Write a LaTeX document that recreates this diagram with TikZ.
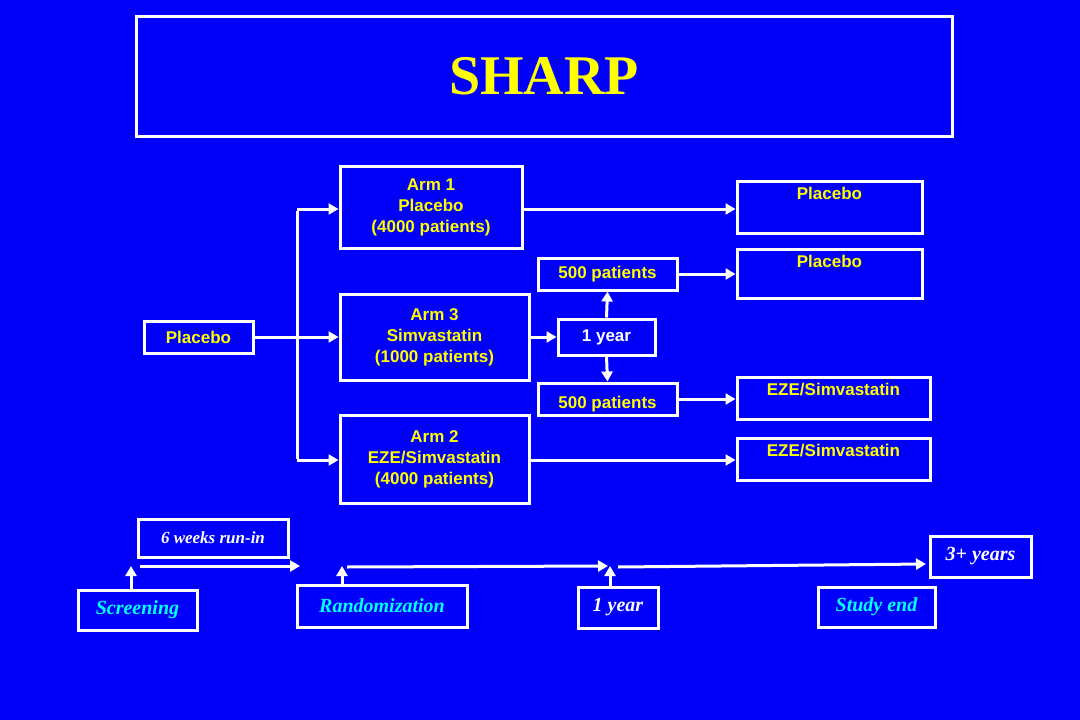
\documentclass[tikz,border=0pt]{standalone}
\usepackage{fontspec}
\setmainfont{Liberation Serif}
\setsansfont{Liberation Sans}
\usetikzlibrary{fit,arrows.meta}
\definecolor{bg}{RGB}{0,0,250}
\definecolor{ylw}{RGB}{255,255,0}
\definecolor{cyn}{RGB}{0,255,255}
\begin{document}
\begin{tikzpicture}[x=1pt,y=-1pt,
  box/.style={draw=white,line width=3pt,inner sep=0pt},
  st/.style={font=\sffamily\bfseries\fontsize{17}{21}\selectfont,text=ylw,align=center},
  it/.style={font=\rmfamily\bfseries\itshape\fontsize{20}{24}\selectfont},
  arr/.style={draw=white,line width=3pt,-{Triangle[length=10pt,width=11pt]}},
  ln/.style={draw=white,line width=3pt}]
\fill[bg] (0,0) rectangle (1080,720);
\useasboundingbox (0,0) rectangle (1080,720);
\newcommand\bx[5]{\node[box,fit={(#2,#3)(#4,#5)}] (#1) {};}
\bx{title}{136}{16}{952}{136}
\node[font=\rmfamily\bfseries\fontsize{56}{60}\selectfont,text=ylw] at (title.center) {SHARP};
\bx{a1}{340}{166}{522}{248}
\node[st] at (a1.center) {Arm 1\\Placebo\\(4000 patients)};
\bx{a3}{340}{294}{529}{380}
\node[st] at (a3.center) {Arm 3\\Simvastatin\\(1000 patients)};
\bx{a2}{340}{415}{529}{503}
\node[st] at (a2.center) {Arm 2\\EZE/Simvastatin\\(4000 patients)};
\bx{pl}{144}{321}{253}{353}
\node[st] at (pl.center) {Placebo};
\bx{p1}{737}{181}{922}{233}
\node[st,anchor=north] at ([yshift=-4pt]p1.north) {Placebo};
\bx{p2}{737}{249}{922}{298}
\node[st,anchor=north] at ([yshift=-4pt]p2.north) {Placebo};
\bx{e1}{737}{377}{930}{419}
\node[st,anchor=north] at ([yshift=-4pt]e1.north) {EZE/Simvastatin};
\bx{e2}{737}{438}{930}{480}
\node[st,anchor=north] at ([yshift=-4pt]e2.north) {EZE/Simvastatin};
\bx{fa}{538}{258}{677}{290}
\node[st] at (fa.center) {500 patients};
\bx{fb}{538}{383}{677}{415}
\node[st,anchor=south] at ([yshift=1pt]fb.south) {500 patients};
\bx{yr}{558}{319}{655}{355}
\node[st,text=white] at (yr.center) {1 year};
% connectors
\coordinate (jt) at (297,209); \coordinate (jb) at (297,460); \coordinate (jm) at (297,337);
\draw[ln] (pl.east) -- (jm);
\draw[ln] ([yshift=-1.5pt]jt) -- ([yshift=1.5pt]jb);
\draw[arr] (jt) -- (a1.west|-jt);
\draw[arr] (jm) -- (a3.west|-jm);
\draw[arr] (jb) -- (a2.west|-jb);
\draw[arr] (a1.east|-jt) -- (p1.west|-jt);
\draw[arr] (a3.east|-jm) -- (yr.west|-jm);
\draw[arr] (yr.north) -- (fa.south);
\draw[arr] (yr.south) -- (fb.north);
\draw[arr] (fa.east) -- (p2.west|-fa.east);
\draw[arr] (fb.east) -- (e1.west|-fb.east);
\draw[arr] (a2.east|-jb) -- (e2.west|-jb);
% timeline
\bx{rw}{138}{519}{288}{557}
\node[it,text=white,font=\rmfamily\bfseries\itshape\fontsize{17}{20}\selectfont] at (rw.center) {6 weeks run-in};
\bx{ty}{930}{536}{1031}{577}
\node[it,text=white] at (ty.center) {3+ years};
\bx{sc}{78}{590}{197}{630}
\node[it,text=cyn] at (sc.center) {Screening};
\bx{rd}{297}{585}{467}{627}
\node[it,text=cyn] at (rd.center) {Randomization};
\bx{oy}{578}{587}{658}{628}
\node[it,text=white] at (oy.center) {1 year};
\bx{se}{818}{587}{935}{627}
\node[it,text=cyn] at (se.center) {Study end};
\coordinate (t1s) at (140,566); \coordinate (t1e) at (300,566);
\coordinate (t2s) at (347,567); \coordinate (t2e) at (608,566);
\coordinate (t3s) at (618,567); \coordinate (t3e) at (926,564);
\draw[arr] (131,590) coordinate (u1) -- (131,566);
\draw[arr] (342,585) -- (342,566);
\draw[arr] (610,587) -- (610,566);
\draw[arr] (t1s) -- (t1e);
\draw[arr] (t2s) -- (t2e);
\draw[arr] (t3s) -- (t3e);
\end{tikzpicture}
\end{document}
